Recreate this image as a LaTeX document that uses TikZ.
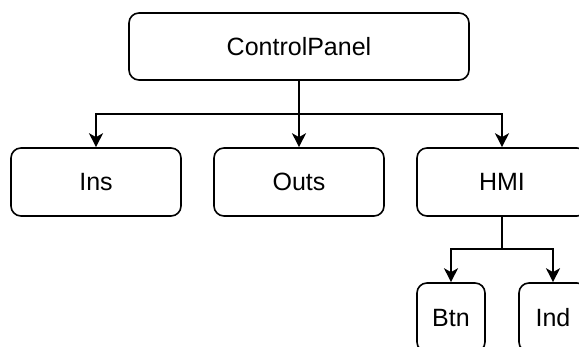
\documentclass[tikz,border=0pt]{standalone}
\usepackage{fontspec}
\setmainfont{Liberation Sans}
\usetikzlibrary{arrows.meta}

\begin{document}
\begin{tikzpicture}[x=0.5pt,y=-0.5pt,
    box/.style={draw,line width=0.8pt,rounded corners=5pt,inner sep=0pt,
        minimum width=85pt,minimum height=34pt,
        font=\fontsize{12.5}{15}\selectfont},
    arr/.style={line width=0.8pt,-{Stealth[length=7pt,width=7pt,inset=2pt]}}]

    % page frame, the picture is cut at its right and lower edge
    \clip (0,0) rectangle (579,347);

    % first level
    \node[box,minimum width=170pt,minimum height=33.5pt] (cp) at (299,46.5) {ControlPanel};
    \node[box] (ins) at (96,182) {Ins};
    \node[box] (outs) at (299,182) {Outs};
    \node[box] (hmi) at (502,182) {HMI};

    % second level below HMI
    \node[box,minimum width=34pt,minimum height=34.5pt] (btn) at (451,317.5) {Btn};
    \node[box,minimum width=34pt,minimum height=34.5pt] (ind) at (553,317.5) {Ind};

    % forks of the tree
    \coordinate (cpfork) at (299,114);
    \coordinate (hmifork) at (502,249);

    \draw[line width=0.8pt] (cp) -- (cpfork);
    \draw[arr] (cpfork) -| (ins);
    \draw[arr] (cpfork) -- (outs);
    \draw[arr] (cpfork) -| (hmi);

    \draw[line width=0.8pt] (hmi) -- (hmifork);
    \draw[arr] (hmifork) -| (btn);
    \draw[arr] (hmifork) -| (ind);

\end{tikzpicture}
\end{document}
